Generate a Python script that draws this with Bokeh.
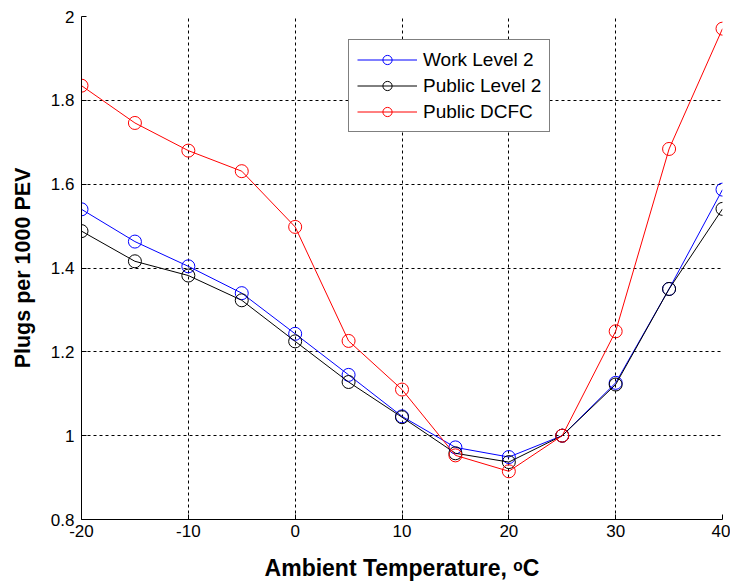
from bokeh.plotting import figure
from bokeh.models import Range1d, FixedTicker, Legend, LegendItem
from bokeh.embed import file_html
from bokeh.resources import INLINE

temps = [-20, -15, -10, -5, 0, 5, 10, 15, 20, 25, 30, 35, 40]
work_l2 = [1.540, 1.463, 1.404, 1.340, 1.243, 1.145, 1.046, 0.972, 0.949, 1.0, 1.126, 1.350, 1.587]
public_l2 = [1.488, 1.416, 1.382, 1.323, 1.225, 1.128, 1.044, 0.958, 0.937, 1.0, 1.122, 1.350, 1.541]
public_dcfc = [1.835, 1.746, 1.680, 1.631, 1.498, 1.226, 1.110, 0.953, 0.915, 1.0, 1.249, 1.684, 1.971]

x_ticks = [-20, -10, 0, 10, 20, 30, 40]
x_tick_labels = {-20: "-20", -10: "-10", 0: "0", 10: "10", 20: "20", 30: "30", 40: "40"}
y_ticks = [0.8, 1.0, 1.2, 1.4, 1.6, 1.8, 2.0]
y_tick_labels = {0.8: "0.8", 1.0: "1", 1.2: "1.2", 1.4: "1.4", 1.6: "1.6", 1.8: "1.8", 2.0: "2"}

series_names = ["Work Level 2", "Public Level 2", "Public DCFC"]
series_colors = ["#0000ff", "#000000", "#ff0000"]

FONT = "Liberation Sans"

p = figure(width=730, height=586, output_backend="svg", toolbar_location=None,
           x_range=Range1d(-20, 40), y_range=Range1d(0.8, 2.0),
           min_border_left=81, min_border_right=8, min_border_top=16, min_border_bottom=67)
p.outline_line_color = None
p.background_fill_color = "white"
p.border_fill_color = "white"

for ax in (p.xaxis[0], p.yaxis[0]):
    ax.axis_line_color = "black"
    ax.axis_line_width = 1
    ax.major_tick_in = 5
    ax.major_tick_out = 0
    ax.minor_tick_line_color = None
    ax.major_label_text_font = FONT
    ax.major_label_text_font_size = "17px"
    ax.major_label_text_color = "black"
    ax.axis_label_text_font = FONT
    ax.axis_label_text_font_style = "bold"
    ax.axis_label_text_color = "black"

p.xaxis.axis_label_text_font_size = "23px"
p.yaxis.axis_label_text_font_size = "21.5px"
p.xaxis.ticker = FixedTicker(ticks=x_ticks)
p.yaxis.ticker = FixedTicker(ticks=y_ticks)
p.xaxis.major_label_overrides = x_tick_labels
p.yaxis.major_label_overrides = y_tick_labels
p.xaxis.axis_label = "Ambient Temperature, \u1d52C"
p.yaxis.axis_label = "Plugs per 1000 PEV"
p.xaxis.major_label_standoff = 5
p.yaxis.major_label_standoff = 7
p.xaxis.axis_label_standoff = 15
p.yaxis.axis_label_standoff = 13

for g in (p.xgrid[0], p.ygrid[0]):
    g.grid_line_color = "black"
    g.grid_line_dash = "3 3"
    g.grid_line_width = 1

items = []
for name, ys, col in zip(series_names, [work_l2, public_l2, public_dcfc], series_colors):
    r1 = p.line(temps, ys, line_color=col, line_width=1)
    r2 = p.scatter(temps, ys, marker="circle", size=13, fill_color=None, line_color=col, line_width=1)
    items.append(LegendItem(label=name, renderers=[r1, r2]))

legend = Legend(items=items, location=(267, 387))
legend.border_line_color = "black"
legend.border_line_width = 1
legend.background_fill_color = "white"
legend.background_fill_alpha = 1
legend.label_text_font = FONT
legend.label_text_font_size = "19px"
legend.label_text_color = "black"
legend.glyph_width = 60
legend.glyph_height = 23
legend.label_height = 23
legend.label_standoff = 6
legend.spacing = 3
legend.padding = 8
legend.margin = 0
p.add_layout(legend, "center")

open("out.html", "w").write(file_html(p, INLINE))
